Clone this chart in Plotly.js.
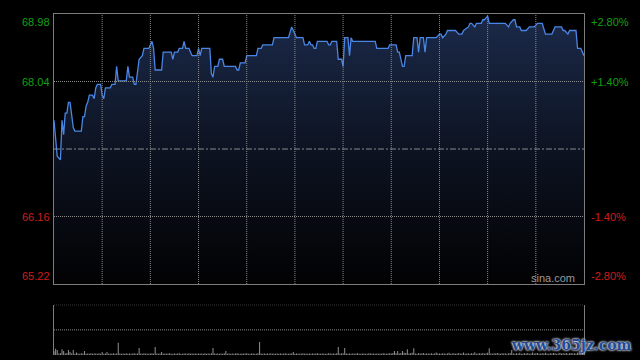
<!DOCTYPE html>
<html><head><meta charset="utf-8">
<script src="https://cdn.plot.ly/plotly-3.0.1.min.js"></script>
<style>html,body{margin:0;padding:0;background:#000;}#chart{width:640px;height:360px;}</style>
</head><body><div id="chart"></div>
<script>
// ---- data ----
const prevClose = 67.10;
const priceTicks = [68.98, 68.04, 66.16, 65.22];
const pctTicks = ['+2.80%', '+1.40%', '-1.40%', '-2.80%'];
const gridPrices = [68.04, 66.16];
const gridMinutes = [30, 60, 90, 120, 150, 180, 210, 240, 270, 300];
const volGrid = [200, 400];
const minutes = [0,2,4,5,6,7,8,9,10,12,13,17,18,19,20,21,22,24,25,26,27,29,30,31,32,35,36,38,39,40,
 44,45,46,47,49,50,51,53,55,56,59,60,61,62,63,67,68,73,74,75,77,78,80,81,82,84,86,89,90,91,
 92,97,98,99,100,102,103,105,106,113,114,115,116,119,120,126,127,129,130,136,137,146,148,149,151,155,156,158,159,160,
 161,162,163,164,170,171,172,173,176,177,179,180,181,183,184,185,186,200,201,208,209,213,214,215,217,218,219,223,224,226,
 227,228,230,231,232,238,240,241,242,244,245,250,252,254,255,258,259,260,262,263,266,267,268,270,271,281,283,284,286,287,
 288,290,291,294,296,299,301,304,306,310,312,316,317,318,320,321,325,326,328,330];
const prices = [67.50,67.00,66.95,67.50,67.30,67.60,67.60,67.75,67.75,67.40,67.35,67.35,67.55,67.55,67.70,67.75,67.85,67.85,67.80,67.95,68.00,68.00,67.85,67.80,67.95,67.95,68.00,68.00,68.25,68.05,
 68.05,68.05,68.25,68.10,68.10,68.00,68.00,68.35,68.40,68.50,68.50,68.55,68.60,68.50,68.20,68.20,68.45,68.45,68.35,68.45,68.45,68.50,68.50,68.60,68.50,68.50,68.40,68.40,68.50,68.40,
 68.50,68.50,68.15,68.10,68.25,68.25,68.35,68.35,68.25,68.25,68.20,68.20,68.30,68.30,68.40,68.40,68.50,68.50,68.55,68.55,68.65,68.65,68.80,68.75,68.65,68.65,68.55,68.55,68.60,68.55,
 68.55,68.50,68.50,68.60,68.60,68.55,68.55,68.60,68.60,68.35,68.35,68.25,68.65,68.65,68.40,68.65,68.60,68.60,68.50,68.50,68.55,68.55,68.45,68.45,68.25,68.25,68.40,68.40,68.65,68.65,
 68.45,68.65,68.65,68.45,68.65,68.65,68.70,68.70,68.65,68.70,68.75,68.75,68.70,68.70,68.75,68.80,68.85,68.85,68.80,68.85,68.85,68.90,68.90,68.95,68.85,68.85,68.80,68.85,68.90,68.90,
 68.80,68.80,68.75,68.75,68.80,68.80,68.85,68.85,68.70,68.70,68.80,68.80,68.75,68.75,68.70,68.75,68.75,68.50,68.50,68.40];
const volumes = [
 30,50,40,12,14,45,32,12,16,40,24,12,40,10,20,12,10,14,12,32,10,12,9,14,10,12,11,9,13,10,
 24,10,12,24,9,11,10,13,9,12,97,12,10,11,9,14,10,12,9,11,13,10,12,55,11,10,13,9,12,10,
 11,14,10,63,12,9,11,24,10,12,9,11,13,10,9,12,10,11,14,9,10,12,11,9,13,10,12,9,11,10,
 12,9,11,10,13,9,12,10,14,55,12,10,11,9,12,10,13,32,9,11,10,12,9,11,13,10,9,12,10,11,
 13,9,10,12,11,9,10,14,103,11,10,12,9,11,10,13,9,12,10,11,9,12,10,11,13,9,10,12,11,24,
 10,12,9,11,10,13,9,12,10,11,9,12,10,11,13,9,10,12,11,9,10,13,11,9,12,10,14,63,12,11,
 14,55,12,10,11,9,12,10,11,13,9,10,12,11,9,10,13,11,9,12,10,11,9,12,10,13,11,9,12,14,
 12,16,32,14,32,12,16,32,18,16,45,12,14,18,53,12,10,14,11,12,16,10,12,11,9,14,10,12,20,11,
 12,10,14,11,9,12,18,10,11,13,9,12,16,10,11,20,9,12,14,10,13,11,22,10,12,14,11,16,10,13,
 18,53,12,10,14,11,16,12,10,13,11,14,9,12,16,40,12,10,14,11,18,10,12,14,11,16,9,12,20,11,
 13,16,10,12,14,11,18,12,10,14,11,16,13,10,12,18,11,14,12,16,10,13,15,11,14,12,18,13,11,20,
 22];
const volMinutes = volumes.map((v, i) => i);

// ---- styles ----
const green = '#12a012', red = '#d01c1c';
const gridCol = '#8a8a8a', borderCol = '#7c7c7c';
const tickFont = (c) => ({family: 'Liberation Sans, Arial, sans-serif', size: 11, color: c});
const dotLine = {color: gridCol, width: 1, dash: '1px,1px'};

const traces = [
 {x: minutes, y: prices, type: 'scatter', mode: 'lines', xaxis: 'x', yaxis: 'y',
  line: {color: '#4a86e6', width: 1.3}, fill: 'tozeroy',
  fillgradient: {type: 'vertical', start: 65.22, stop: 68.98,
    colorscale: [[0, '#020203'], [0.5, '#0d1322'], [1, '#1b2a4a']]},
  hoverinfo: 'skip'},
 {x: volMinutes, y: volumes, type: 'bar', xaxis: 'x2', yaxis: 'y2',
  marker: {color: '#8c8c8c', line: {width: 0}}, hoverinfo: 'skip'}
];

const shapes = [];
gridMinutes.forEach(m => shapes.push({type: 'line', layer: 'above', xref: 'x', yref: 'y domain',
  x0: m, x1: m, y0: 0, y1: 1, line: dotLine}));
gridPrices.forEach(p => shapes.push({type: 'line', layer: 'above', xref: 'x domain', yref: 'y',
  x0: 0, x1: 1, y0: p, y1: p, line: dotLine}));
volGrid.forEach(v => shapes.push({type: 'line', layer: 'below', xref: 'x2 domain', yref: 'y2',
  x0: 0, x1: 1, y0: v, y1: v, line: dotLine}));
shapes.push({type: 'line', layer: 'above', xref: 'x domain', yref: 'y', x0: 0, x1: 1, y0: prevClose, y1: prevClose,
  line: {color: '#8a8a8a', width: 1, dash: '6px,2px,2px,2px'}});

const annotations = [];
priceTicks.forEach((p, i) => {
  const anchor = i === 0 ? 'top' : (i === priceTicks.length - 1 ? 'bottom' : 'middle');
  const col = p > prevClose ? green : red;
  annotations.push({xref: 'paper', yref: 'y', x: 0, y: p, xanchor: 'right', yanchor: anchor,
    xshift: -2, text: p.toFixed(2), showarrow: false, font: tickFont(col)});
  annotations.push({xref: 'paper', yref: 'y', x: 1, y: p, xanchor: 'left', yanchor: anchor,
    xshift: 5, text: pctTicks[i], showarrow: false, font: tickFont(col)});
});
annotations.push({xref: 'paper', yref: 'y domain', x: 0.9406, y: 0.0, xanchor: 'center', yanchor: 'bottom',
  yshift: -2, text: 'sina.com', showarrow: false, font: {family: 'Liberation Sans, Arial, sans-serif', size: 11, color: '#9a9a9a'}});
annotations.push({xref: 'paper', yref: 'paper', x: 0.977, y: 0.03, xanchor: 'center', yanchor: 'middle',
  text: 'www.365jz.com', showarrow: false,
  font: {family: 'DejaVu Serif, serif', size: 14, weight: 700, color: '#1f4b96',
    shadow: '0 0 2px #dfe4ee, 0 0 2px #dfe4ee, 0 0 3px #b0b8c8'}});

const layout = {
  width: 640, height: 360,
  margin: {l: 54, r: 56, t: 14, b: 5, pad: 0},
  paper_bgcolor: '#000', plot_bgcolor: '#000',
  showlegend: false, bargap: 0.35,
  xaxis: {domain: [0, 1], range: [0, 330], showticklabels: false, ticks: '', showgrid: false,
    zeroline: false, showline: true, mirror: true, linecolor: borderCol, linewidth: 1},
  yaxis: {domain: [0.2082, 1], range: [65.22, 68.98], showticklabels: false, ticks: '', showgrid: false,
    zeroline: false, showline: true, mirror: true, linecolor: borderCol, linewidth: 1},
  xaxis2: {domain: [0, 1], range: [0, 330], anchor: 'y2', showticklabels: false, ticks: '',
    showgrid: false, zeroline: false, showline: false},
  yaxis2: {domain: [0, 0.1475], range: [0, 400], anchor: 'x2', showticklabels: false, ticks: '',
    showgrid: false, zeroline: false, showline: true, mirror: true, linecolor: borderCol, linewidth: 1},
  shapes: shapes,
  annotations: annotations
};

Plotly.newPlot('chart', traces, layout, {staticPlot: true, displayModeBar: false});
</script></body></html>
